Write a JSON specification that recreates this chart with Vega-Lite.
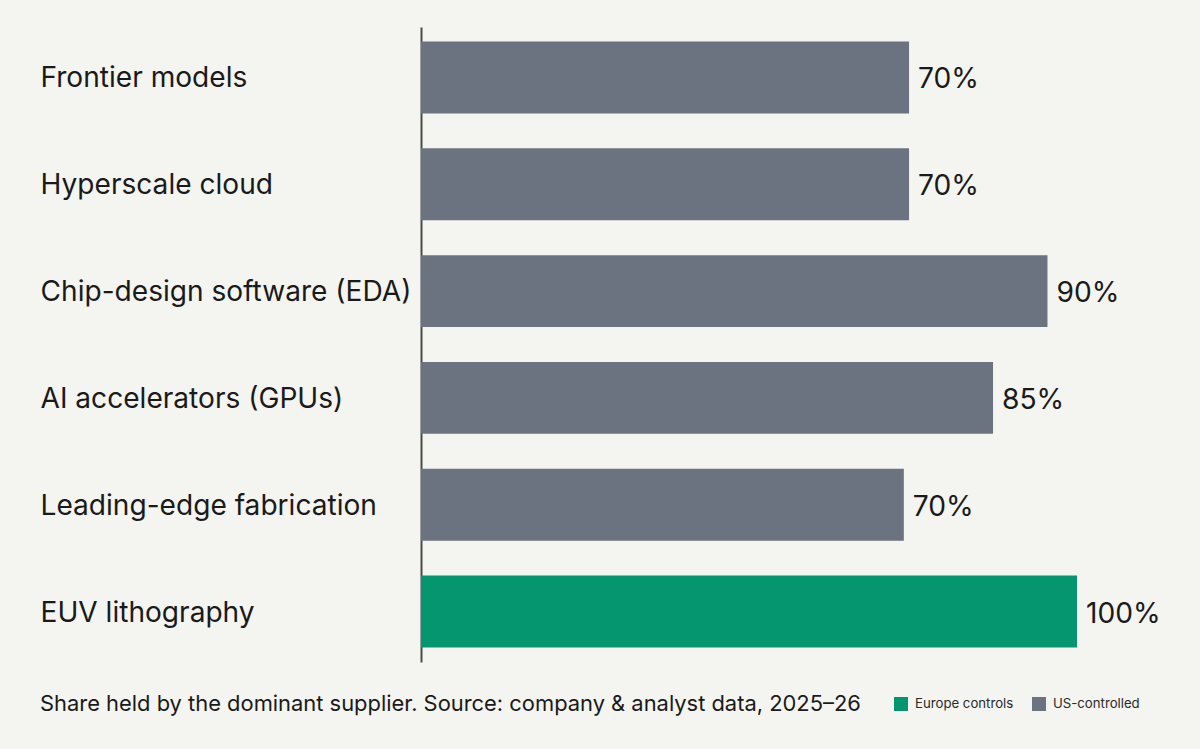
{
  "$schema": "https://vega.github.io/schema/vega-lite/v6.json",
  "width": 656,
  "height": 635,
  "autosize": {"type": "none"},
  "padding": {"left": 421, "top": 27, "right": 123, "bottom": 87},
  "background": "#f4f4f0",
  "config": {
    "view": {"stroke": null},
    "font": "Inter",
    "text": {"font": "Inter"}
  },
  "title": {
    "text": "Share held by the dominant supplier. Source: company & analyst data, 2025–26",
    "orient": "bottom",
    "anchor": "start",
    "offset": -17,
    "font": "Inter",
    "fontSize": 21.9,
    "fontWeight": "normal",
    "color": "#1a1a1a"
  },
  "data": {
    "values": [
      {"segment": "Frontier models", "share": 0.70, "bar_length": 0.744, "control": "US-controlled"},
      {"segment": "Hyperscale cloud", "share": 0.70, "bar_length": 0.744, "control": "US-controlled"},
      {"segment": "Chip-design software (EDA)", "share": 0.90, "bar_length": 0.955, "control": "US-controlled"},
      {"segment": "AI accelerators (GPUs)", "share": 0.85, "bar_length": 0.872, "control": "US-controlled"},
      {"segment": "Leading-edge fabrication", "share": 0.70, "bar_length": 0.736, "control": "US-controlled"},
      {"segment": "EUV lithography", "share": 1.00, "bar_length": 1.0, "control": "Europe controls"}
    ]
  },
  "encoding": {
    "y": {
      "field": "segment",
      "type": "nominal",
      "sort": null,
      "scale": {"paddingInner": 0.327, "paddingOuter": 0.136},
      "axis": {
        "title": null,
        "ticks": false,
        "domain": true,
        "domainColor": "#4a4a4a",
        "domainWidth": 2,
        "labelAlign": "left",
        "labelPadding": 381,
        "labelOffset": 2,
        "labelFont": "Inter",
        "labelFontSize": 28.1,
        "labelColor": "#1a1a1a",
        "labelLimit": 400
      }
    },
    "x": {
      "field": "bar_length",
      "type": "quantitative",
      "scale": {"domain": [0, 1]},
      "axis": null
    }
  },
  "layer": [
    {
      "mark": {"type": "bar"},
      "encoding": {
        "color": {
          "field": "control",
          "type": "nominal",
          "scale": {"domain": ["Europe controls", "US-controlled"], "range": ["#05956f", "#6b7280"]},
          "legend": {
            "title": null,
            "orient": "none",
            "direction": "horizontal",
            "legendX": 473,
            "legendY": 670,
            "symbolType": "square",
            "symbolSize": 196,
            "symbolStrokeWidth": 0,
            "symbolOpacity": 1,
            "labelFont": "Inter",
            "labelFontSize": 13.2,
            "labelColor": "#2a2a2a",
            "columnPadding": 18,
            "labelOffset": 7
          }
        }
      }
    },
    {
      "mark": {"type": "text", "align": "left", "baseline": "middle", "dx": 9, "dy": 3, "fontSize": 28.2, "color": "#1a1a1a", "font": "Inter"},
      "encoding": {
        "text": {"field": "share", "type": "quantitative", "format": ".0%"}
      }
    }
  ]
}
